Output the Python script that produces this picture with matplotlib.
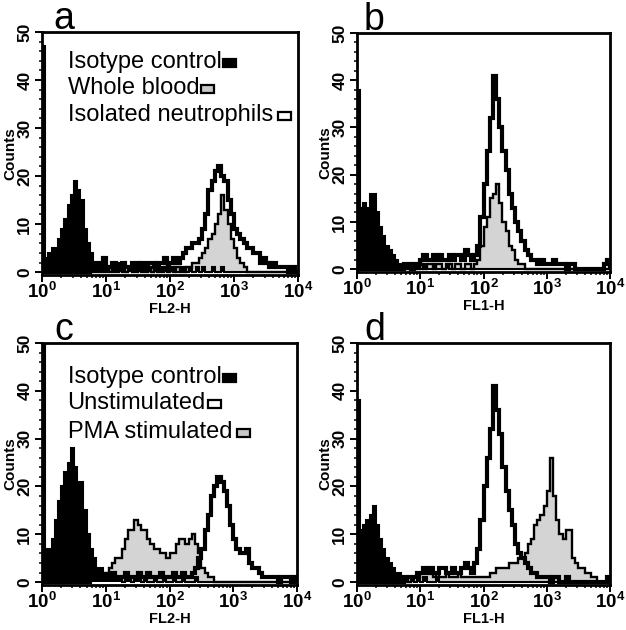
import numpy as np
import matplotlib
matplotlib.use('Agg')
import matplotlib.pyplot as plt
from matplotlib.patches import Rectangle
from matplotlib.ticker import LogLocator, NullFormatter, MultipleLocator

plt.rcParams['font.family'] = ['Liberation Sans', 'DejaVu Sans']
plt.rcParams['mathtext.fontset'] = 'custom'
plt.rcParams['mathtext.rm'] = 'Liberation Sans'
plt.rcParams['mathtext.bf'] = 'Liberation Sans:bold'

# ---------------- data (counts per channel bin, 20 bins per decade, 10^0..10^4) ----------------
bins_per_decade = 20
n_decades = 4

iso_a = [47, 3, 4, 5, 5, 7, 9, 11, 14, 16,
         19, 17, 15, 9, 6, 4, 2, 1, 1, 2,
         1, 0, 1, 2, 1, 1, 0, 1, 2, 1,
         1, 2, 1, 1, 0, 1, 2, 1, 1, 2,
         1, 1, 0, 1, 1, 0, 1, 0, 1, 0,
         1, 0, 0, 1, 0, 0, 1, 0, 0, 0,
         0, 0, 0, 0, 0, 0, 0, 0, 0, 0,
         0, 0, 0, 0, 0, 0, 0, 0, 0, 0]
whole_blood_a = [0, 0, 0, 0, 0, 0, 0, 0, 0, 0,
                 0, 0, 0, 0, 0, 0, 0, 0, 0, 0,
                 0, 1, 0, 0, 1, 0, 0, 1, 0, 0,
                 1, 0, 0, 1, 0, 1, 0, 0, 1, 0,
                 1, 0, 1, 0, 0, 1, 1, 2, 2, 3,
                 4, 5, 7, 8, 10, 12, 16, 13, 10, 7,
                 5, 3, 2, 1, 0, 0, 0, 0, 0, 0,
                 0, 0, 0, 0, 0, 0, 0, 0, 0, 0]
neutrophils_a = [0, 0, 0, 0, 0, 0, 0, 0, 0, 0,
                 0, 0, 0, 0, 0, 1, 1, 2, 1, 3,
                 1, 1, 2, 1, 1, 2, 1, 1, 2, 2,
                 1, 2, 1, 2, 2, 1, 2, 2, 3, 2,
                 2, 3, 2, 3, 4, 5, 5, 6, 6, 7,
                 9, 12, 17, 19, 21, 22, 20, 19, 15, 12,
                 9, 8, 7, 6, 5, 5, 4, 4, 2, 3,
                 2, 1, 2, 1, 1, 1, 1, 0, 1, 0]

iso_b = [38, 13, 14, 13, 16, 16, 12, 9, 7, 5,
         4, 3, 2, 1, 1, 1, 0, 1, 0, 1,
         0, 1, 0, 0, 1, 0, 0, 0, 1, 0,
         0, 0, 0, 0, 0, 0, 0, 0, 0, 0,
         0, 0, 0, 0, 0, 0, 0, 0, 0, 0,
         0, 0, 0, 0, 0, 0, 0, 0, 0, 0,
         0, 0, 0, 0, 0, 0, 0, 0, 0, 0,
         0, 0, 0, 0, 0, 0, 0, 0, 0, 0]
whole_blood_b = [0, 0, 0, 0, 0, 0, 0, 0, 0, 0,
                 0, 0, 0, 0, 0, 0, 0, 0, 0, 0,
                 1, 0, 1, 1, 0, 1, 1, 0, 1, 1,
                 0, 1, 1, 0, 1, 1, 0, 1, 2, 5,
                 9, 11, 15, 16, 18, 14, 10, 8, 5, 4,
                 2, 1, 1, 0, 0, 0, 0, 0, 0, 0,
                 0, 0, 0, 0, 0, 0, 0, 0, 0, 0,
                 0, 0, 0, 0, 0, 0, 0, 0, 0, 0]
neutrophils_b = [0, 0, 0, 0, 0, 0, 0, 0, 0, 0,
                 0, 0, 0, 0, 0, 1, 1, 0, 1, 1,
                 2, 3, 2, 2, 3, 2, 3, 2, 2, 3,
                 2, 3, 3, 2, 4, 3, 2, 3, 5, 11,
                 18, 25, 32, 41, 36, 30, 25, 21, 16, 13,
                 10, 8, 6, 4, 3, 2, 2, 1, 2, 1,
                 1, 1, 2, 1, 1, 1, 0, 1, 1, 0,
                 0, 0, 0, 0, 0, 0, 0, 0, 1, 2]

iso_c = [50, 7, 7, 9, 13, 17, 20, 23, 25, 28,
         24, 21, 21, 15, 10, 7, 5, 3, 3, 2,
         2, 1, 2, 1, 1, 0, 1, 1, 0, 1,
         1, 0, 1, 0, 0, 1, 0, 0, 1, 0,
         0, 1, 0, 0, 1, 0, 0, 0, 1, 0,
         0, 0, 0, 0, 0, 0, 0, 0, 0, 0,
         0, 0, 0, 0, 0, 0, 0, 0, 0, 0,
         0, 0, 0, 0, 0, 0, 0, 0, 0, 0]
pma_c = [0, 0, 0, 0, 0, 0, 0, 0, 0, 0,
         0, 0, 0, 0, 1, 1, 1, 2, 2, 2,
         2, 3, 4, 5, 5, 7, 9, 11, 11, 13,
         12, 11, 11, 9, 8, 7, 7, 6, 6, 5,
         6, 6, 8, 9, 9, 8, 9, 10, 8, 6,
         3, 2, 1, 1, 0, 0, 0, 0, 0, 0,
         0, 0, 0, 0, 0, 0, 0, 0, 0, 0,
         0, 0, 0, 0, 0, 0, 0, 0, 0, 0]
unstim_c = [0, 0, 0, 0, 0, 0, 0, 0, 0, 0,
            0, 0, 0, 0, 0, 1, 1, 1, 1, 1,
            1, 1, 2, 1, 1, 1, 2, 1, 1, 1,
            2, 1, 1, 2, 1, 1, 1, 2, 1, 1,
            1, 2, 1, 1, 2, 1, 1, 2, 3, 5,
            7, 11, 14, 18, 20, 22, 21, 19, 16, 12,
            9, 7, 6, 6, 7, 4, 3, 3, 2, 1,
            1, 1, 1, 1, 0, 1, 1, 1, 0, 1]

iso_d = [38, 11, 12, 13, 14, 16, 12, 9, 7, 5,
         4, 3, 2, 2, 1, 1, 0, 1, 0, 1,
         0, 1, 0, 0, 0, 1, 0, 0, 0, 0,
         0, 0, 0, 0, 0, 0, 0, 0, 0, 0,
         0, 0, 0, 0, 0, 0, 0, 0, 0, 0,
         0, 0, 0, 0, 0, 0, 0, 0, 0, 0,
         0, 0, 0, 0, 0, 0, 0, 0, 0, 0,
         0, 0, 0, 0, 0, 0, 0, 0, 0, 0]
pma_d = [0, 0, 0, 0, 0, 0, 0, 0, 0, 0,
         0, 0, 0, 0, 0, 0, 0, 1, 1, 1,
         2, 2, 2, 2, 1, 2, 1, 1, 2, 1,
         1, 1, 2, 1, 1, 1, 1, 1, 1, 1,
         1, 1, 2, 2, 3, 3, 3, 3, 4, 4,
         4, 5, 5, 6, 8, 9, 12, 13, 14, 16,
         19, 26, 18, 13, 10, 9, 11, 11, 5, 4,
         3, 3, 2, 2, 1, 1, 0, 0, 0, 0]
unstim_d = [0, 0, 0, 0, 0, 0, 0, 0, 0, 0,
            0, 0, 0, 0, 0, 1, 1, 1, 1, 2,
            2, 3, 2, 3, 2, 2, 3, 3, 2, 2,
            3, 2, 2, 3, 4, 3, 2, 4, 7, 13,
            20, 26, 32, 41, 36, 31, 24, 19, 15, 12,
            8, 6, 5, 4, 3, 2, 2, 1, 1, 1,
            1, 0, 1, 1, 0, 0, 1, 0, 0, 0,
            0, 0, 0, 0, 0, 0, 0, 0, 0, 1]

panel_letters = ['a', 'b', 'c', 'd']
x_labels = ['FL2-H', 'FL1-H', 'FL2-H', 'FL1-H']
y_label = 'Counts'
xtick_values = [1, 10, 100, 1000, 10000]
xtick_labels = [r'$\mathbf{10^{0}}$', r'$\mathbf{10^{1}}$', r'$\mathbf{10^{2}}$',
                r'$\mathbf{10^{3}}$', r'$\mathbf{10^{4}}$']
ytick_values = [0, 10, 20, 30, 40, 50]
ytick_labels = ['0', '10', '20', '30', '40', '50']

legend_a = ['Isotype control', 'Whole blood', 'Isolated neutrophils']
legend_c = ['Isotype control', 'Unstimulated', 'PMA stimulated']

# ---------------- styling ----------------
GRAY = '#d4d4d4'
W, H = 626, 630
fig = plt.figure(figsize=(W / 100, H / 100), dpi=100)

def px_rect(l, r, t, b):
    return [l / W, 1 - b / H, (r - l) / W, (b - t) / H]

rects = [px_rect(42, 298, 32, 275), px_rect(357, 610, 33, 272),
         px_rect(42, 297, 343, 585), px_rect(357, 610, 343, 585)]
letter_x = [0.045, 0.025, 0.05, 0.03]

edges = 10 ** (np.arange(bins_per_decade * n_decades + 1) / bins_per_decade)

panels = [
    dict(iso=iso_a, gray=whole_blood_a, open=neutrophils_a,
         legend=legend_a, swatch=['black', 'gray', 'white']),
    dict(iso=iso_b, gray=whole_blood_b, open=neutrophils_b, legend=None),
    dict(iso=iso_c, gray=pma_c, open=unstim_c,
         legend=legend_c, swatch=['black', 'white', 'gray']),
    dict(iso=iso_d, gray=pma_d, open=unstim_d, legend=None),
]

axes = []
for k, p in enumerate(panels):
    ax = fig.add_axes(rects[k])
    axes.append(ax)
    ax.stairs(p['gray'], edges, baseline=0, fill=True, facecolor=GRAY,
              edgecolor='none', zorder=1)
    ax.stairs(p['gray'], edges, baseline=0, fill=False, color='black',
              lw=1.7, zorder=2)
    ax.stairs(p['open'], edges, baseline=0, fill=False, color='black',
              lw=3.0, zorder=3)
    ax.stairs(p['iso'], edges, baseline=0, fill=True, facecolor='black',
              edgecolor='black', lw=1.5, zorder=4)

    ax.set_xscale('log')
    ax.set_xlim(1, 1e4)
    ax.set_ylim(-0.6, 50)
    ax.set_xticks(xtick_values)
    ax.set_xticklabels(xtick_labels, fontsize=13.5)
    ax.xaxis.set_minor_locator(LogLocator(base=10, subs=range(2, 10), numticks=20))
    ax.xaxis.set_minor_formatter(NullFormatter())
    ax.set_yticks(ytick_values)
    ax.set_yticklabels(ytick_labels, rotation=90, va='center', fontsize=12.5,
                       fontweight='bold')
    ax.yaxis.set_minor_locator(MultipleLocator(2))
    ax.tick_params(which='major', direction='out', length=5, width=1.4, pad=2)
    ax.tick_params(which='minor', direction='out', length=2.5, width=1.1)
    ax.tick_params(axis='x', which='major', pad=0)
    for s in ax.spines.values():
        s.set_linewidth(2.0)
    ax.set_xlabel(x_labels[k], fontsize=10.5, fontweight='bold', labelpad=0)
    ax.set_ylabel(y_label, fontsize=11, fontweight='bold', labelpad=0)
    ax.text(letter_x[k], 1.012, panel_letters[k], transform=ax.transAxes,
            fontsize=27, va='baseline', ha='left')

# legends (text followed by a small swatch)
fig.canvas.draw()
renderer = fig.canvas.get_renderer()
legend_rows_y = {0: [0.877, 0.77, 0.658], 2: [0.86, 0.752, 0.632]}
swatch_style = {'black': dict(facecolor='black', edgecolor='black'),
                'gray': dict(facecolor='#c8c8c8', edgecolor='black'),
                'white': dict(facecolor='white', edgecolor='black')}
for k in (0, 2):
    ax = axes[k]
    p = panels[k]
    for j, label in enumerate(p['legend']):
        t = ax.text(0.10, legend_rows_y[k][j], label, transform=ax.transAxes,
                    fontsize=17, va='center', ha='left')
        bb = t.get_window_extent(renderer=renderer)
        gap = 2 if j < 2 else 5
        x0 = bb.x1 + gap
        yc = (bb.y0 + bb.y1) / 2 - 1
        w_px, h_px = 13, 8
        inv = fig.transFigure.inverted()
        (fx0, fy0) = inv.transform((x0, yc - h_px / 2))
        (fx1, fy1) = inv.transform((x0 + w_px, yc + h_px / 2))
        fig.patches.append(Rectangle((fx0, fy0), fx1 - fx0, fy1 - fy0,
                                     transform=fig.transFigure, lw=1.6,
                                     **swatch_style[p['swatch'][j]]))

fig.savefig('out.png', dpi=100, facecolor='white')
